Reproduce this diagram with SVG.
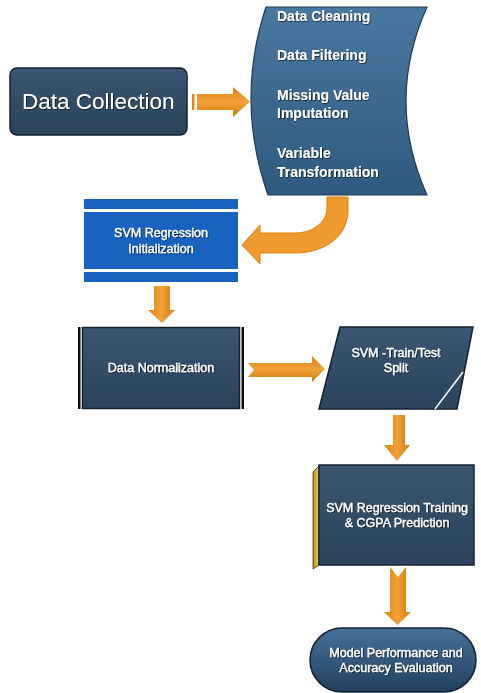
<svg xmlns="http://www.w3.org/2000/svg" width="481" height="693" viewBox="0 0 481 693">
<defs>
<linearGradient id="gNavy" x1="0" y1="0" x2="0" y2="1"><stop offset="0" stop-color="#3b5672"/><stop offset="1" stop-color="#2b435b"/></linearGradient>
<linearGradient id="gBanner" x1="0" y1="0" x2="0" y2="1"><stop offset="0" stop-color="#4a77a0"/><stop offset="1" stop-color="#2f5a80"/></linearGradient>
<linearGradient id="gPill" x1="0" y1="0" x2="0" y2="1"><stop offset="0" stop-color="#46719a"/><stop offset="1" stop-color="#22405d"/></linearGradient>
<linearGradient id="gOrH" x1="0" y1="0" x2="0" y2="1"><stop offset="0" stop-color="#d9820f"/><stop offset="0.5" stop-color="#f2a23a"/><stop offset="1" stop-color="#cf7a0c"/></linearGradient>
<linearGradient id="gOrV" x1="0" y1="0" x2="1" y2="0"><stop offset="0" stop-color="#d9820f"/><stop offset="0.5" stop-color="#f2a23a"/><stop offset="1" stop-color="#cf7a0c"/></linearGradient>
<linearGradient id="gGold" x1="0" y1="0" x2="1" y2="0"><stop offset="0" stop-color="#b8922a"/><stop offset="1" stop-color="#e6c75a"/></linearGradient>
<filter id="ts" x="-10%" y="-30%" width="120%" height="160%"><feDropShadow dx="0.8" dy="0.8" stdDeviation="0.6" flood-color="#000" flood-opacity="0.7"/></filter>
</defs>
<style>
.t{font-family:"Liberation Sans",Arial,sans-serif;fill:#fff;filter:url(#ts)}
.s{font-size:12.5px;text-anchor:middle;stroke:#fff;stroke-width:0.3}
.b{font-size:14px;font-weight:bold}
.box{fill:url(#gNavy);stroke:#16222f;stroke-width:1.5}
</style>
<g id="connectors">
<rect x="192" y="94" width="2.5" height="16" fill="#e08a1a"/>
<path d="M197,94 L233,94 L233,87 L250,101.5 L233,117 L233,110 L197,110 Z" fill="url(#gOrH)"/>
<path d="M327,197 L348,197 L348,210 C348,236 325,253 295,253 L260,253 L260,264 L242,245 L260,225 L260,233 L295,233 C313,233 327,222 327,208 Z" fill="#ee9a2e" stroke="#d9850f" stroke-width="1"/>
<path d="M154,286 L170,286 L170,310 L175,310 L162,323 L148,310 L154,310 Z" fill="url(#gOrV)"/>
<path d="M248,363 L312,363 L312,356 L325,369 L312,382 L312,377 L248,377 L254,370 Z" fill="url(#gOrH)"/>
<path d="M393,415 L405,415 L405,445 L410,445 L397,461 L384,445 L393,445 Z" fill="url(#gOrV)"/>
<path d="M390,567 L398,577 L406,567 L406,612 L411,612 L397.5,625 L384,612 L390,612 Z" fill="url(#gOrV)"/>
</g>
<g id="data-collection">
<rect x="10" y="68" width="177" height="67" rx="7" class="box" stroke="#0e161f"/>
<text x="22" y="109" class="t" font-size="22.5">Data Collection</text>
</g>
<g id="preprocessing">
<path d="M266,7 L427,7 Q385,101 427,195 L268,195 Q235,101 266,7 Z" fill="url(#gBanner)" stroke="#1f3a55" stroke-width="1.2"/>
<text x="277" y="21" class="t b">Data Cleaning</text>
<text x="277" y="60" class="t b">Data Filtering</text>
<text x="277" y="100" class="t b">Missing Value</text>
<text x="277" y="118" class="t b">Imputation</text>
<text x="277" y="158" class="t b">Variable</text>
<text x="277" y="177" class="t b">Transformation</text>
</g>
<g id="svm-init">
<rect x="84" y="199" width="154" height="10" fill="#1a62c0"/>
<rect x="84" y="212" width="154" height="57" fill="#1a62c0"/>
<rect x="84" y="272" width="154" height="10" fill="#1a62c0"/>
<text x="161" y="237" class="t s">SVM Regression</text>
<text x="161" y="253" class="t s">Initialization</text>
</g>
<g id="data-normalization">
<rect x="78" y="327" width="2.5" height="82" fill="#111"/>
<rect x="241.5" y="327" width="2.5" height="82" fill="#111"/>
<rect x="82.5" y="327.5" width="157" height="81" class="box"/>
<text x="161" y="372" class="t s">Data Normalization</text>
</g>
<g id="train-test-split">
<path d="M340,327 L473,327 L457,409 L319,409 Z" class="box"/>
<line x1="435" y1="409" x2="463" y2="372" stroke="#fff" stroke-width="1.5"/>
<text x="396" y="357" class="t s">SVM -Train/Test</text>
<text x="396" y="372" class="t s">Split</text>
</g>
<g id="svm-training">
<path d="M313,472 L319,466 L319,565 L313,569 Z" fill="url(#gGold)" stroke="#3a3320" stroke-width="0.8"/>
<rect x="319" y="465" width="155" height="100" class="box"/>
<text x="397" y="512" class="t s">SVM Regression Training</text>
<text x="397" y="527" class="t s">&amp; CGPA Prediction</text>
</g>
<g id="evaluation">
<rect x="310" y="628" width="166" height="64" rx="32" fill="url(#gPill)" stroke="#16222f" stroke-width="1.5"/>
<text x="396" y="657" class="t s">Model Performance and</text>
<text x="396" y="672" class="t s">Accuracy Evaluation</text>
</g>
</svg>
